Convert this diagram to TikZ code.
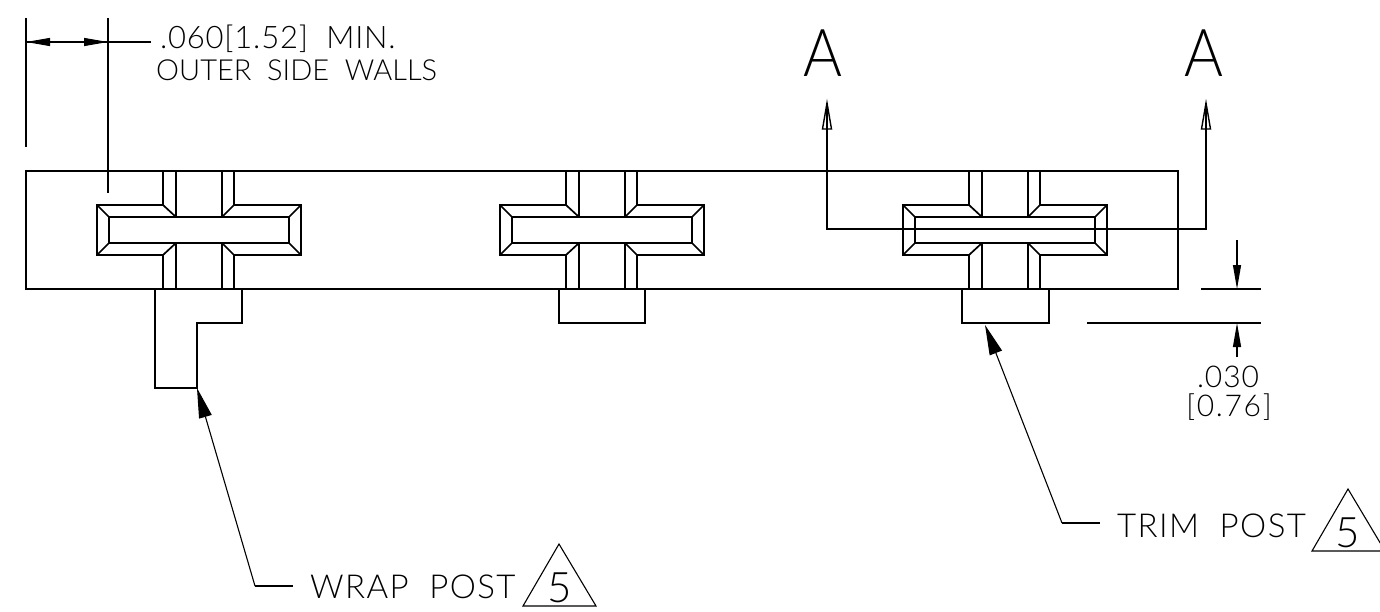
\documentclass[tikz,border=0pt]{standalone}
\usepackage{fontspec}
\usetikzlibrary{arrows.meta}
\newfontfamily\cadfont[WordSpace=2.0,Numbers=Lining]{Lato Light}
\newcommand{\cadsize}[2]{\cadfont\fontsize{#1}{#1}\selectfont\addfontfeatures{LetterSpace=#2}}
\tikzset{
  x=1pt,y=-1pt,
  part/.style={line width=1.7pt,line join=miter},
  thinline/.style={line width=1.1pt},
  dimtip/.style={-{Triangle[length=24pt,width=8pt]}},
  leadtip/.style={-{Triangle[length=30pt,width=13pt]}},
  label/.style={inner sep=0pt,anchor=base west,text=black},
}
\newcommand{\crossunit}[1]{%
  \begin{scope}[xshift=#1pt,part]
    \draw (163,205) -- (97,205) -- (97,255) -- (163,255);
    \draw (234,205) -- (301,205) -- (301,255) -- (234,255);
    \draw (109,217) rectangle (289,243);
    \draw (97,205) -- (109,217) (301,205) -- (289,217) (97,255) -- (109,243) (301,255) -- (289,243);
    \draw (163,171) -- (163,205) -- (176,217) (176,171) -- (176,217);
    \draw (234,171) -- (234,205) -- (222,217) (222,171) -- (222,217);
    \draw (163,289) -- (163,255) -- (176,243) (176,289) -- (176,243);
    \draw (234,289) -- (234,255) -- (222,243) (222,289) -- (222,243);
  \end{scope}}
\begin{document}
\begin{tikzpicture}
\useasboundingbox (0,0) rectangle (1380,612);
\fill[white] (0,0) rectangle (1380,612);
% body
\draw[part] (26,171) rectangle (1178,289);
\crossunit{0}\crossunit{403}\crossunit{806}
% posts
\draw[part] (155,289) -- (155,388) -- (197,388) -- (197,323) -- (242,323) -- (242,289);
\draw[part] (559,289) -- (559,323) -- (645,323) -- (645,289);
\draw[part] (962,289) -- (962,323) -- (1049,323) -- (1049,289);
% top-left dimension
\coordinate (extA1) at (26,18); \coordinate (extA2) at (26,147);
\coordinate (extB1) at (108,18); \coordinate (extB2) at (108,193);
\coordinate (dimL) at (26,42); \coordinate (dimR) at (108,42); \coordinate (dimE) at (151,42);
\draw[thinline] (extA1) -- (extA2);
\draw[thinline] (extB1) -- (extB2);
\draw[thinline] (dimL) -- (dimE);
\draw[thinline,{Triangle[length=24pt,width=8pt]}-{Triangle[length=24pt,width=8pt]}] (dimL) -- (dimR);
\node[label,font=\cadsize{31}{2.5}] (t060) at (160,49) {.060[1.52] MIN.};
\node[label,font=\cadsize{29}{0}] (tout) at (156,81) {OUTER SIDE WALLS};
% section line
\coordinate (sa) at (827,103); \coordinate (sb) at (827,229);
\coordinate (sc) at (1206,229); \coordinate (sd) at (1206,103);
\draw[part,line width=1.5pt] (sa) -- (sb) -- (sc) -- (sd);
\draw[line width=1.4pt,line join=miter] (822.5,129) -- (827,103) -- (831.5,129) -- cycle;
\draw[line width=1.4pt,line join=miter] (1201.5,129) -- (1206,103) -- (1210.5,129) -- cycle;
\node[inner sep=0pt,anchor=base,font=\cadsize{66}{0}\addfontfeatures{FakeStretch=0.9}] (A1) at (823,77) {A};
\node[inner sep=0pt,anchor=base,font=\cadsize{66}{0}\addfontfeatures{FakeStretch=0.9}] (A2) at (1204,77) {A};
% right dimension
\coordinate (h1a) at (1201,289); \coordinate (h1b) at (1261,289);
\coordinate (h2a) at (1087,323); \coordinate (h2b) at (1261,323);
\coordinate (v1a) at (1237,240); \coordinate (v1b) at (1237,289);
\coordinate (v2a) at (1237,357); \coordinate (v2b) at (1237,323);
\draw[thinline] (h1a) -- (h1b);
\draw[thinline] (h2a) -- (h2b);
\draw[thinline,dimtip] (v1a) -- (v1b);
\draw[thinline,dimtip] (v2a) -- (v2b);
\node[label,anchor=base,font=\cadsize{30}{3}] (t030) at (1228,387) {.030};
\node[label,anchor=base,font=\cadsize{30}{5.5}] (t076) at (1229,416) {[0.76]};
% leaders
\coordinate (wrap0) at (197,388); \coordinate (wrap1) at (255,586); \coordinate (wrap2) at (293,586);
\draw[thinline] (wrap2) -- (wrap1);
\draw[thinline,leadtip] (wrap1) -- (wrap0);
\coordinate (trim0) at (985,325); \coordinate (trim1) at (1062,523); \coordinate (trim2) at (1100,523);
\draw[thinline] (trim2) -- (trim1);
\draw[thinline,leadtip] (trim1) -- (trim0);
\node[label,font=\cadsize{33}{4.2}] (twrap) at (310,598) {WRAP POST};
\node[label,font=\cadsize{33}{4.2}] (ttrim) at (1117,537) {TRIM POST};
% delta notes
\draw[thinline,line join=miter] (523,606) -- (559,544) -- (596,606) -- cycle;
\node[label,anchor=base,font=\cadsize{42}{0}] (n1) at (560,602) {5};
\draw[thinline,line join=miter] (1312,551) -- (1348,489) -- (1385,551) -- cycle;
\node[label,anchor=base,font=\cadsize{42}{0}] (n2) at (1348,547) {5};
\end{tikzpicture}
\end{document}
